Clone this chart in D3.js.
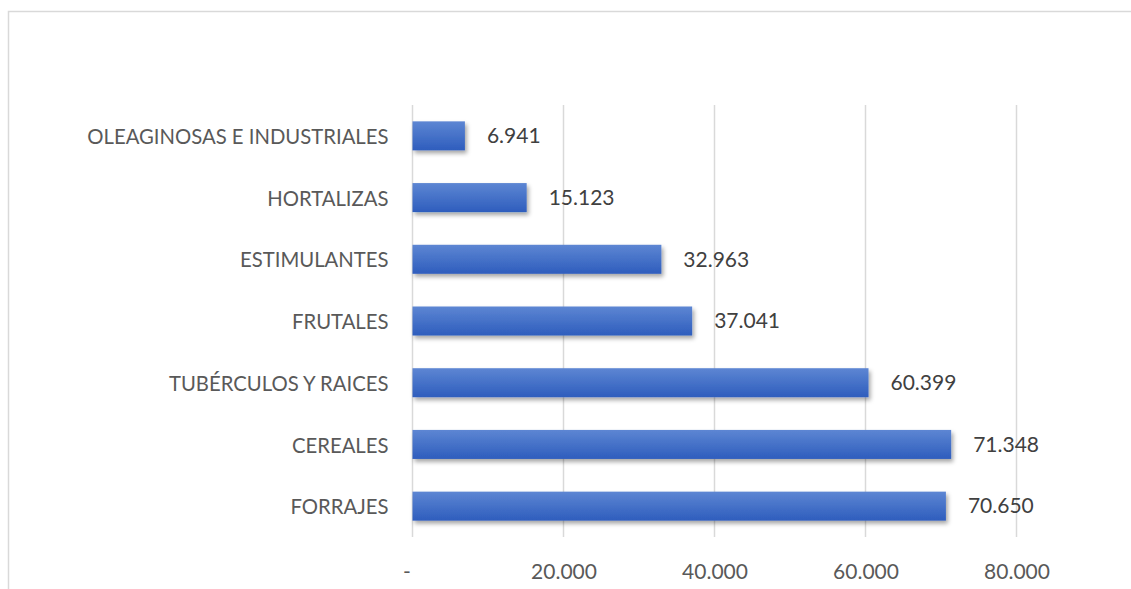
<!DOCTYPE html>
<html><head><meta charset="utf-8">
<script src="https://cdn.jsdelivr.net/npm/d3@7"></script>
<style>body{margin:0;background:#fff}svg{display:block}</style>
</head><body><div id="c"></div>
<script>
const categories = ["OLEAGINOSAS E INDUSTRIALES","HORTALIZAS","ESTIMULANTES","FRUTALES","TUBÉRCULOS Y RAICES","CEREALES","FORRAJES"];
const values = [6941,15123,32963,37041,60399,71348,70650];
const tickValues = [0,20000,40000,60000,80000];
const tickLabels = ["-","20.000","40.000","60.000","80.000"];
const valueLabels = ["6.941","15.123","32.963","37.041","60.399","71.348","70.650"];

const W=1131,H=589;
const svg=d3.select("#c").append("svg").attr("width",W).attr("height",H);
const defs=svg.append("defs");
const g=defs.append("linearGradient").attr("id","bg").attr("x1",0).attr("y1",0).attr("x2",0).attr("y2",1);
g.append("stop").attr("offset","0%").attr("stop-color","#5d86d3");
g.append("stop").attr("offset","100%").attr("stop-color","#2e5dbd");
const f=defs.append("filter").attr("id","sh").attr("x","-10%").attr("y","-30%").attr("width","130%").attr("height","180%");
f.append("feDropShadow").attr("dx",2).attr("dy",3).attr("stdDeviation",2).attr("flood-color","#000").attr("flood-opacity",0.35);

// chart border
svg.append("rect").attr("x",8.5).attr("y",11.5).attr("width",1140).attr("height",600).attr("fill","none").attr("stroke","#d9d9d9").attr("stroke-width",1.5);

const x=d3.scaleLinear().domain([0,80000]).range([412.5,1016.5]);
const y=d3.scaleBand().domain(categories).range([105,537]).paddingInner(0.53).paddingOuter(0.265);

svg.append("g").selectAll("line").data(tickValues).join("line")
 .attr("x1",d=>x(d)).attr("x2",d=>x(d)).attr("y1",105).attr("y2",537)
 .attr("stroke","#d9d9d9").attr("stroke-width",1.5);

const xa=d3.axisBottom(x).tickValues(tickValues).tickFormat((d,i)=>tickLabels[i]).tickSize(0).tickPadding(0);
const ax=svg.append("g").attr("transform","translate(0,572)").call(xa);
ax.select(".domain").remove();
ax.selectAll("text").attr("dy","0.35em").attr("dx",(d,i)=>i===0?-6:0).attr("font-family","Lato, 'Open Sans', sans-serif").attr("font-size",21).attr("fill","#595959");

const ya=d3.axisLeft(y).tickSize(0).tickPadding(24);
const ay=svg.append("g").attr("transform","translate(412.5,0)").call(ya);
ay.select(".domain").remove();
ay.selectAll("text").attr("dy","0.4em").attr("font-family","Lato, 'Open Sans', sans-serif").attr("font-size",20.3).attr("fill","#595959");

svg.append("g").selectAll("rect").data(values).join("rect")
 .attr("x",x(0)).attr("y",(d,i)=>y(categories[i])).attr("width",d=>x(d)-x(0)).attr("height",y.bandwidth())
 .attr("fill","url(#bg)").attr("filter","url(#sh)");

svg.append("g").selectAll("text").data(values).join("text")
 .attr("x",d=>x(d)+22).attr("y",(d,i)=>y(categories[i])+y.bandwidth()/2).attr("dy","0.35em")
 .attr("font-family","Lato, 'Open Sans', sans-serif").attr("font-size",21).attr("fill","#404040")
 .text((d,i)=>valueLabels[i]);
</script></body></html>
